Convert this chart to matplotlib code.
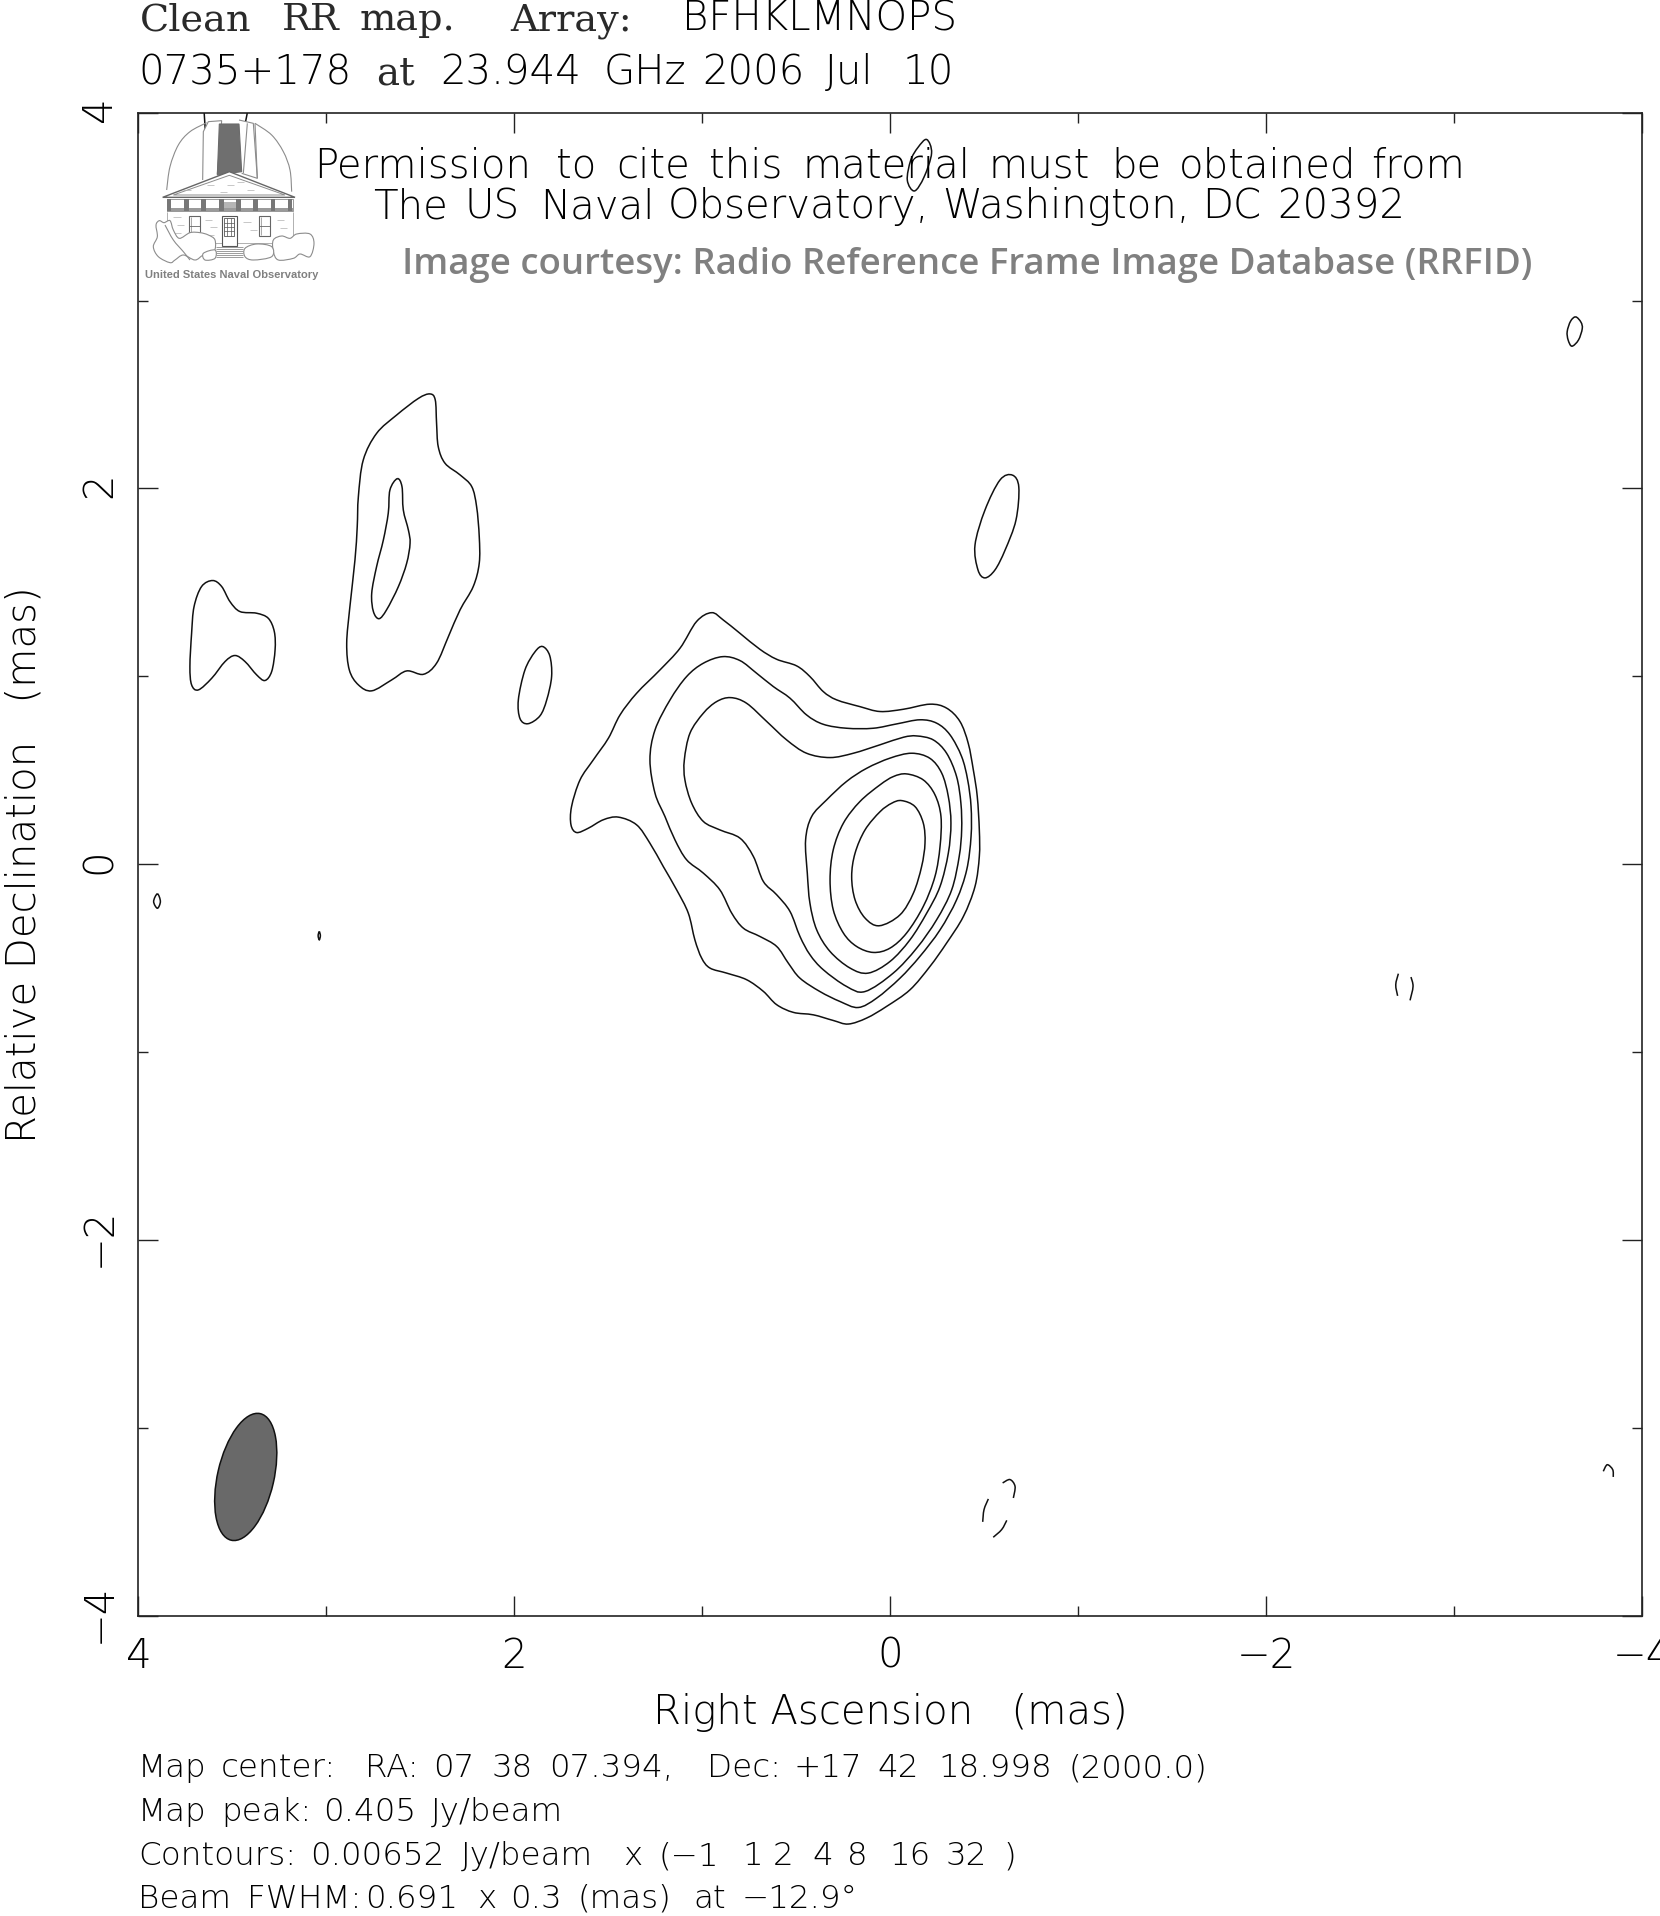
import numpy as np
import matplotlib
matplotlib.use("Agg")
import matplotlib.pyplot as plt
from matplotlib.path import Path
from matplotlib.patches import PathPatch, Ellipse, Rectangle
from matplotlib.ticker import MultipleLocator
from matplotlib.transforms import ScaledTranslation
from matplotlib import font_manager as fm

# contours, in mas (ra, dec)
c1_ra = [.951,.889,.800,.694,.605,.499,.428,.357,.286,.162,.055,-.069,-.210,-.299,-.370,-.414,-.441,-.462,-.473,-.473,-.450,-.388,-.299,-.210,-.104,.020,.126,.224,.304,.410,.516,.605,.676,.765,.871,.960,1.004,1.040,1.075,1.137,1.208,1.279,1.350,1.447,1.527,1.607,1.669,1.699,1.696,1.651,1.580,1.500,1.438,1.350,1.226,1.119,1.031]
c1_dec = [1.339,1.300,1.229,1.144,1.091,1.056,.999,.919,.875,.839,.813,.825,.852,.831,.760,.644,.503,.361,.183,.042,-.118,-.278,-.419,-.544,-.668,-.756,-.818,-.850,-.831,-.801,-.788,-.747,-.676,-.614,-.579,-.552,-.499,-.402,-.260,-.136,-.012,.112,.210,.251,.237,.192,.169,.210,.307,.449,.556,.671,.795,.910,1.034,1.150,1.292]
c2_ra = [.892,.800,.712,.623,.534,.446,.357,.233,.091,-.033,-.157,-.246,-.317,-.379,-.411,-.429,-.429,-.406,-.352,-.264,-.157,-.051,.073,.171,.268,.375,.481,.543,.605,.694,.782,.844,.907,.995,1.084,1.146,1.199,1.252,1.279,1.252,1.172,1.084,.995]
c2_dec = [1.105,1.084,1.017,.946,.884,.795,.745,.724,.724,.747,.769,.751,.689,.573,.449,.307,.148,-.029,-.189,-.349,-.490,-.606,-.712,-.762,-.730,-.677,-.606,-.526,-.437,-.384,-.340,-.260,-.136,-.047,.024,.130,.254,.378,.556,.715,.875,.999,1.070]
c3_ra = [.850,.765,.658,.552,.446,.321,.197,.055,-.069,-.140,-.228,-.299,-.352,-.375,-.379,-.366,-.326,-.246,-.140,-.015,.135,.233,.357,.428,.481,.534,.605,.676,.729,.800,.907,.995,1.057,1.093,1.096,1.066,.995,.924]
c3_dec = [.887,.857,.760,.662,.591,.568,.591,.636,.676,.683,.662,.591,.467,.325,.183,.042,-.136,-.295,-.446,-.579,-.677,-.650,-.561,-.481,-.384,-.251,-.162,-.091,.042,.139,.183,.228,.325,.449,.556,.698,.804,.866]
c4_ra = [-.113,-.210,-.273,-.308,-.322,-.308,-.264,-.193,-.104,.002,.118,.215,.321,.392,.428,.442,.451,.419,.339,.233,.126,.002]
c4_dec = [.591,.564,.485,.361,.219,.059,-.118,-.260,-.402,-.517,-.579,-.552,-.464,-.349,-.207,-.047,.130,.254,.343,.441,.511,.565]
c5_ra = [-.086,-.175,-.237,-.269,-.264,-.237,-.175,-.086,.002,.091,.180,.250,.304,.321,.304,.250,.162,.055,-.016]
c5_dec = [.481,.449,.370,.254,.095,-.065,-.224,-.366,-.446,-.469,-.437,-.366,-.242,-.083,.077,.219,.334,.423,.467]
c6_ra = [-.060,-.131,-.175,-.184,-.166,-.122,-.051,.059,.135,.188,.206,.188,.135,.055,-.007]
c6_dec = [.339,.307,.219,.112,-.012,-.154,-.269,-.327,-.286,-.189,-.065,.059,.183,.280,.325]

# separate islands
left_ra = [3.605,3.557,3.513,3.460,3.371,3.309,3.277,3.273,3.291,3.327,3.371,3.433,3.486,3.539,3.610,3.681,3.717,3.726,3.717,3.704,3.664]
left_dec = [1.510,1.478,1.398,1.345,1.336,1.309,1.238,1.141,1.026,.978,1.008,1.079,1.111,1.079,.990,.928,.955,1.052,1.229,1.371,1.478]
mid_ra = [2.449,2.421,2.414,2.405,2.369,2.289,2.227,2.201,2.187,2.187,2.219,2.289,2.351,2.414,2.484,2.573,2.653,2.759,2.830,2.878,2.892,2.875,2.848,2.836,2.830,2.804,2.733,2.626,2.511]
mid_dec = [2.503,2.471,2.347,2.222,2.134,2.072,2.010,1.903,1.744,1.602,1.478,1.354,1.212,1.070,1.011,1.029,.981,.923,.955,1.034,1.176,1.371,1.620,1.797,1.956,2.151,2.293,2.391,2.479]
midin_ra = [2.623,2.598,2.591,2.564,2.555,2.573,2.617,2.680,2.720,2.750,2.759,2.733,2.697,2.671,2.662]
midin_dec = [2.052,2.010,1.886,1.779,1.708,1.602,1.478,1.354,1.307,1.345,1.442,1.584,1.726,1.868,1.992]
blob_ra = [1.850,1.812,1.802,1.828,1.864,1.928,1.970,1.979,1.944,1.891]
blob_dec = [1.159,1.110,1.000,.875,.790,.748,.775,.875,1.034,1.130]
north_ra = [-.649,-.683,-.668,-.610,-.556,-.503,-.466,-.450,-.503,-.583]
north_dec = [2.071,2.007,1.832,1.672,1.566,1.524,1.566,1.699,1.885,2.045]
top_ra = [-.193,-.219,-.179,-.128,-.090,-.108,-.147]
top_dec = [3.857,3.784,3.657,3.583,3.640,3.746,3.815]
east_ra = [-3.645,-3.673,-3.680,-3.660,-3.625,-3.605,-3.600,-3.618]
east_dec = [2.913,2.885,2.850,2.790,2.757,2.790,2.835,2.890]
lens_ra = [3.899,3.883,3.899,3.919]
lens_dec = [-.157,-.198,-.234,-.198]
tiny_ra = [3.038,3.032,3.038,3.044]
tiny_dec = [-.358,-.380,-.402,-.380]

# broken bits of contour
arcs = [
    ([-2.702,-2.688,-2.698], [-.582,-.641,-.700]),
    ([-2.769,-2.780,-2.764], [-.600,-.650,-.724]),
    ([-.597,-.636,-.663,-.654], [-3.292,-3.274,-3.310,-3.372]),
    ([-.521,-.498,-.491], [-3.377,-3.434,-3.499]),
    ([-.619,-.592,-.547], [-3.491,-3.540,-3.581]),
    ([-3.792,-3.813,-3.842,-3.845], [-3.230,-3.195,-3.221,-3.260]),
    ([3.602,3.557,3.522,3.495], [3.764,3.747,3.756,3.782]),
    ([3.650,3.642], [3.997,3.871]),
    ([3.421,3.442], [3.997,3.891]),
]

beam_ra, beam_dec = 3.429, -3.26
beam_major, beam_minor, beam_pa = .691, .3, 12.9

xticks = [4, 2, 0, -2, -4]
yticks = [-4, -2, 0, 2, 4]
ticklabels = lambda v: [str(t).replace("-", "\u2212") for t in v]

# text, word by word: (word, left x in px)
line1_serif = [("Clean", 140), ("RR", 282), ("map.", 360), ("Array:", 510)]
line1_sans = [("BFHKLMNOPS", 682)]
line2_sans = [("0735+178", 138), ("23.944", 440), ("GHz", 604), ("2006", 702), ("Jul", 825), ("10", 903)]
perm1 = [("Permission", 314), ("to", 556), ("cite", 616), ("this", 709), ("material", 802),
         ("must", 988), ("be", 1111), ("obtained", 1179), ("from", 1371)]
perm2 = [("The", 373), ("US", 464), ("Naval", 540), ("Observatory,", 668),
         ("Washington,", 942), ("DC", 1202), ("20392", 1277)]
foot1 = [("Map", 138), ("center:", 221), ("RA:", 365), ("07", 433), ("38", 491), ("07.394,", 549),
         ("Dec:", 707), ("+17", 793), ("42", 877), ("18.998", 938), ("(2000.0)", 1068)]
foot2 = [("Map", 138), ("peak:", 221), ("0.405", 323), ("Jy/beam", 431)]
foot3 = [("Contours:", 138), ("0.00652", 310), ("Jy/beam", 461), ("x", 623), ("(\u22121", 658), ("1", 742),
         ("2", 773), ("4", 812), ("8", 847), ("16", 889), ("32", 945), (")", 1003)]
foot4 = [("Beam", 138), ("FWHM:", 247), ("0.691", 365), ("x", 477), ("0.3", 510), ("(mas)", 577),
         ("at", 693), ("\u221212.9\u00b0", 742)]

# thin font, closest thing to the pgplot one
thin = "Lato"
thin_w = "light"
for f in fm.fontManager.ttflist:
    if f.name == "DejaVu Sans" and "ExtraLight" in f.fname:
        thin, thin_w = "DejaVu Sans", 200
        break
serif = "DejaVu Serif"


def smooth_path(xs, ys, closed=True):
    # catmull-rom through the read points, drawn as matplotlib beziers
    p = np.column_stack([xs, ys])
    n = len(p)
    if n == 2:
        return Path(p)
    verts = [p[0]]
    codes = [Path.MOVETO]
    for i in range(n if closed else n - 1):
        if closed:
            p0, p1, p2, p3 = p[i-1], p[i], p[(i+1) % n], p[(i+2) % n]
        else:
            p0, p1, p2, p3 = p[max(i-1, 0)], p[i], p[i+1], p[min(i+2, n-1)]
        verts += [p1 + (p2-p0)/6, p2 - (p3-p1)/6, p2]
        codes += [Path.CURVE4]*3
    return Path(verts, codes)


fig = plt.figure(figsize=(16.6, 19.16), dpi=100)
ax = fig.add_axes([138.4/1660, 300/1916, 1504/1660, 1503.4/1916])
ax.set_xlim(4, -4)
ax.set_ylim(-4, 4)
ax.set_aspect("auto")

for s in ax.spines.values():
    s.set_linewidth(1.2)
    s.set_color("#222222")
ax.xaxis.set_minor_locator(MultipleLocator(1))
ax.yaxis.set_minor_locator(MultipleLocator(1))
ax.set_xticks(xticks)
ax.set_yticks(yticks)
ax.set_xticklabels(ticklabels(xticks), family=thin, weight=thin_w, fontsize=29, color="black")
ax.set_yticklabels(ticklabels(yticks), family=thin, weight=thin_w, fontsize=29, rotation=90, va="center", color="black")
ax.tick_params(which="major", direction="in", length=14.4, width=1.0, top=True, right=True, color="#222222")
ax.tick_params(axis="x", which="major", pad=15)
ax.tick_params(axis="y", which="major", pad=14)
ax.tick_params(which="minor", direction="in", length=7.2, width=1.0, top=True, right=True, color="#222222")
ax.set_xlabel("Right Ascension   (mas)", family=thin, weight=thin_w, fontsize=29, labelpad=12)
ax.set_ylabel("Relative Declination   (mas)", family=thin, weight=thin_w, fontsize=29, labelpad=26)
for lab in ax.get_yticklabels():
    lab.set_transform(lab.get_transform() + ScaledTranslation(0, 3/100, fig.dpi_scale_trans))

for xs, ys in [(c1_ra, c1_dec), (c2_ra, c2_dec), (c3_ra, c3_dec), (c4_ra, c4_dec), (c5_ra, c5_dec), (c6_ra, c6_dec),
               (left_ra, left_dec), (mid_ra, mid_dec), (midin_ra, midin_dec), (blob_ra, blob_dec),
               (north_ra, north_dec), (top_ra, top_dec), (east_ra, east_dec), (lens_ra, lens_dec), (tiny_ra, tiny_dec)]:
    ax.add_patch(PathPatch(smooth_path(xs, ys), fc="none", ec="#111111", lw=1.1, zorder=3))
for xs, ys in arcs:
    ax.add_patch(PathPatch(smooth_path(xs, ys, closed=False), fc="none", ec="#111111", lw=1.1, zorder=3))

ax.add_patch(Ellipse((beam_ra, beam_dec), beam_minor, beam_major, angle=beam_pa,
                     fc="#696969", ec="#111111", lw=1.1, zorder=3))

# overlay in pixels, for the header, footer and the logo
ov = fig.add_axes([0, 0, 1, 1], facecolor="none")
ov.set_xlim(0, 1660)
ov.set_ylim(1916, 0)
ov.axis("off")


def words(items, y, size, family=thin, weight=thin_w, color="black"):
    for w, x in items:
        ov.text(x, y, w, fontsize=size, family=family, weight=weight, color=color, va="baseline", ha="left")


words(line1_serif, 30, 27.5, family=serif, weight="normal", color="#2a2a2a")
words(line1_sans, 30, 29)
words(line2_sans, 84, 29)
ov.text(376, 84, "at", fontsize=28, family=serif, color="#2a2a2a", va="baseline")
words(perm1, 177, 29)
words(perm2, 218, 29)
ov.text(402, 274, "Image courtesy: Radio Reference Frame Image Database (RRFID)", fontsize=26.3,
        family="Open Sans", weight="semibold", color="#808080", va="baseline")
words(foot1, 1777, 23.4)
words(foot2, 1821, 23.4)
words(foot3, 1865, 23.4)
words(foot4, 1908, 23.4)

lx = lambda v: 140 + np.asarray(v, float)/3
ly = lambda v: 110 + np.asarray(v, float)/3
GR = "#8c8c8c"


def lg(xv, yv, c=GR, lw=0.8, closed=False, smooth=False, fc="none"):
    if smooth:
        pth = smooth_path(lx(xv), ly(yv), closed=closed)
    else:
        pts = np.column_stack([lx(xv), ly(yv)])
        pth = Path(pts, closed=False) if not closed else Path(np.vstack([pts, pts[0]]), closed=True)
    ov.add_patch(PathPatch(pth, fc=fc, ec=c, lw=lw))


lg([80, 90, 115, 150, 200], [240, 170, 105, 65, 38], smooth=True)
lg([345, 395, 430, 450, 455], [40, 75, 125, 180, 245], smooth=True)
lg([188, 190, 205, 245, 232], [210, 65, 35, 32, 192], fc="white")
lg([297, 340, 352, 305], [30, 40, 205, 190], fc="white")
lg([238, 297, 305, 232], [42, 42, 185, 195], closed=True, c="#6b6b6b", fc="#6f6f6f")
lg([310, 322], [190, 40])
lg([345, 352], [40, 205])
lg([68, 268, 465, 68], [262, 185, 262, 262], closed=True, c="#666666", lw=1.0, fc="white")
lg([100, 268, 435, 100], [255, 196, 255, 255], closed=True, lw=0.7)
ov.add_patch(Rectangle((lx(80), ly(268)), (458-80)/3, 36/3, fc="white", ec=GR, lw=0.6))
ov.add_patch(Rectangle((lx(80), ly(295)), (458-80)/3, 10/3, fc="#9a9a9a", ec="none"))
for cx in [80, 132, 184, 237, 288, 340, 392, 443]:
    ov.add_patch(Rectangle((lx(cx), ly(268)), 14/3, 36/3, fc="#777777", ec="none"))
ov.add_patch(Rectangle((lx(251), ly(275)), 37/3, 20/3, fc="#b5b5b5", ec="none"))
lg([80, 80, 458, 458], [305, 400, 400, 305], c="#b0b0b0", lw=0.7)
ov.add_patch(Rectangle((lx(245), ly(318)), 45/3, 90/3, fc="white", ec="#555555", lw=0.8))
ov.add_patch(Rectangle((lx(252), ly(325)), 31/3, 53/3, fc="white", ec="#555555", lw=0.6))
for gy in [338, 351, 364]:
    lg([252, 283], [gy, gy], c="#555555", lw=0.5)
for gx in [262, 273]:
    lg([gx, gx], [325, 378], c="#555555", lw=0.5)
for wx in [148, 358]:
    ov.add_patch(Rectangle((lx(wx), ly(318)), 33/3, 60/3, fc="white", ec="#666666", lw=0.8))
    lg([wx+5, wx+5], [322, 374], c="#888888", lw=0.5)
    lg([wx, wx+33], [348, 348], c="#666666", lw=0.6)
for sy in [412, 418, 424, 430, 436, 442]:
    lg([228, 310], [sy, sy], lw=0.6)
# bricks
for bx, by in [(100, 320), (110, 345), (195, 330), (210, 352), (310, 335), (330, 360), (410, 330), (420, 355),
               (130, 240), (200, 225), (240, 245), (290, 215), (320, 240), (260, 225), (100, 370), (200, 375)]:
    lg([bx, bx+22], [by, by], c="#b0b0b0", lw=0.5)
lg([48, 58, 72, 90, 100, 118, 150, 180, 205, 225, 222, 190, 165, 130, 105, 90, 55, 40, 52],
   [345, 332, 338, 332, 360, 385, 368, 368, 375, 390, 425, 435, 450, 435, 450, 458, 440, 410, 380], closed=True, smooth=True, fc="white")
lg([75, 100, 130, 150], [345, 390, 425, 450], smooth=True)
lg([400, 425, 450, 470, 510, 522, 510, 480, 460, 415, 400],
   [390, 378, 385, 372, 372, 400, 440, 432, 445, 450, 425], closed=True, smooth=True, fc="white")
lg([315, 350, 395, 395, 340, 315], [415, 402, 410, 440, 450, 440], closed=True, smooth=True, fc="white")
lg([190, 225, 225, 195], [430, 420, 445, 450], closed=True, smooth=True, fc="white")
ov.text(145, 278, "United States Naval Observatory", fontsize=8.0, family="Liberation Sans", weight="bold",
        color="#808080", va="baseline")

fig.savefig("out.png", dpi=100)
